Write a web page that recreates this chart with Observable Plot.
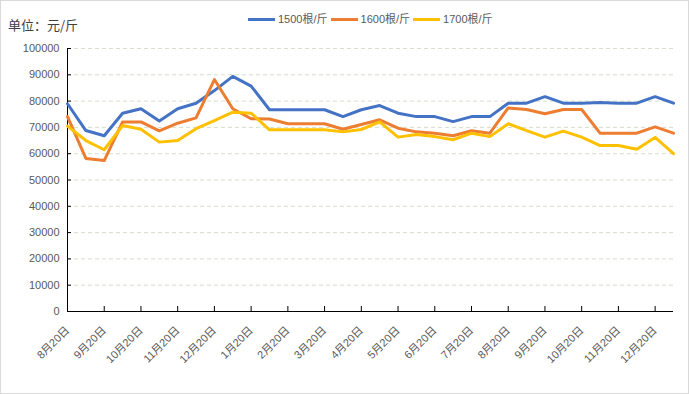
<!DOCTYPE html>
<html><head><meta charset="utf-8">
<script src="https://cdn.jsdelivr.net/npm/d3@7"></script>
<script src="https://cdn.jsdelivr.net/npm/@observablehq/plot@0.6"></script>
<style>
body{margin:0;background:#fff;}
#wrap{position:relative;width:689px;height:394px;background:#fff;font-family:"Liberation Sans","Noto Sans CJK SC",sans-serif;overflow:hidden;}
#border{position:absolute;left:0;top:0;width:689px;height:394px;box-sizing:border-box;border:1px solid #d9d9d9;pointer-events:none;}
#title{position:absolute;left:8px;top:17px;font-size:13px;color:#404040;line-height:16px;font-family:"Noto Sans CJK SC",sans-serif;}
#legend{position:absolute;left:248px;top:11px;display:flex;align-items:center;font-size:11px;color:#595959;line-height:16px;font-family:"Liberation Sans","Noto Sans CJK SC",sans-serif;}
.sw{width:27px;height:3px;margin-right:3px;}
.lt{margin-right:3px;}
#chart{position:absolute;left:0;top:0;}
</style></head><body>
<div id="wrap"><div id="chart"></div><div id="title">单位：元/斤</div><div id="legend"></div><div id="border"></div></div>
<script>
const seriesNames = ["1500根/斤", "1600根/斤", "1700根/斤"];
const seriesColors = ["#4472C4", "#ED7D31", "#FFC000"];
const s1500 = [79000, 68800, 66800, 75400, 77100, 72400, 77100, 79200, 84000, 89400, 85700, 76700, 76700, 76700, 76700, 74100, 76700, 78300, 75400, 74100, 74100, 72200, 74100, 74100, 79200, 79200, 81700, 79200, 79200, 79500, 79200, 79200, 81700, 79200];
const s1600 = [74100, 58200, 57400, 72100, 72100, 68700, 71600, 73600, 88200, 77100, 73300, 73200, 71400, 71400, 71400, 69300, 71100, 72900, 69700, 68300, 67800, 66800, 68700, 67800, 77400, 76800, 75200, 76800, 76800, 67800, 67800, 67800, 70200, 67800];
const s1700 = [70500, 65000, 61500, 70700, 69300, 64400, 65000, 69500, 72600, 75800, 75400, 69100, 69100, 69100, 69100, 68300, 69200, 72100, 66300, 67300, 66500, 65300, 67800, 66500, 71400, 68800, 66300, 68600, 66300, 63100, 63100, 61700, 66200, 60000];
const xLabels = ["8月20日","9月20日","10月20日","11月20日","12月20日","1月20日","2月20日","3月20日","4月20日","5月20日","6月20日","7月20日","8月20日","9月20日","10月20日","11月20日","12月20日"];
const xTickIdx = [0,2,4,6,8,10,12,14,16,18,20,22,24,26,28,30,32];
const yTicks = [0,10000,20000,30000,40000,50000,60000,70000,80000,90000,100000];

const allSeries = [s1500, s1600, s1700];
const rows = [];
allSeries.forEach((arr, k) => arr.forEach((v, i) => rows.push({i, v, s: seriesNames[k]})));

const font = '"Liberation Sans","Noto Sans CJK SC",sans-serif';
const chart = Plot.plot({
  width: 689, height: 394,
  marginLeft: 67, marginRight: 16, marginTop: 48, marginBottom: 83,
  style: {background: "transparent", fontFamily: font, fontSize: "11px", color: "#595959"},
  x: {type: "linear", domain: [0, 33]},
  y: {domain: [0, 100000]},
  color: {domain: seriesNames, range: seriesColors},
  marks: [
    Plot.gridY(yTicks, {stroke: "#d5dfcc", strokeOpacity: 1, strokeDasharray: "4,3"}),
    Plot.axisY(yTicks, {tickSize: 0, tickPadding: 8, tickFormat: d => String(d), fill: "#595959", label: null, fontSize: 11}),
    Plot.axisY(yTicks, {tickSize: -4, tickFormat: () => "", label: null, stroke: "black"}),
    Plot.axisX(xTickIdx, {tickSize: 0, tickPadding: 17, tickRotate: -45, tickFormat: d => xLabels[xTickIdx.indexOf(d)], label: null, fill: "#595959", fontSize: 11}),
    Plot.axisX(xTickIdx, {tickSize: -5, tickFormat: () => "", label: null, stroke: "black"}),
    Plot.ruleX([0], {stroke: "black"}),
    Plot.ruleY([0], {stroke: "black"}),
    Plot.line(rows, {x: "i", y: "v", stroke: "s", strokeWidth: 3, strokeLinejoin: "round"})
  ]
});
document.getElementById("chart").appendChild(chart);

const legend = document.getElementById("legend");
seriesNames.forEach((n, k) => {
  const sw = document.createElement("div");
  sw.className = "sw"; sw.style.background = seriesColors[k];
  const t = document.createElement("span");
  t.className = "lt"; t.textContent = n;
  legend.appendChild(sw); legend.appendChild(t);
});
</script>
</body></html>
